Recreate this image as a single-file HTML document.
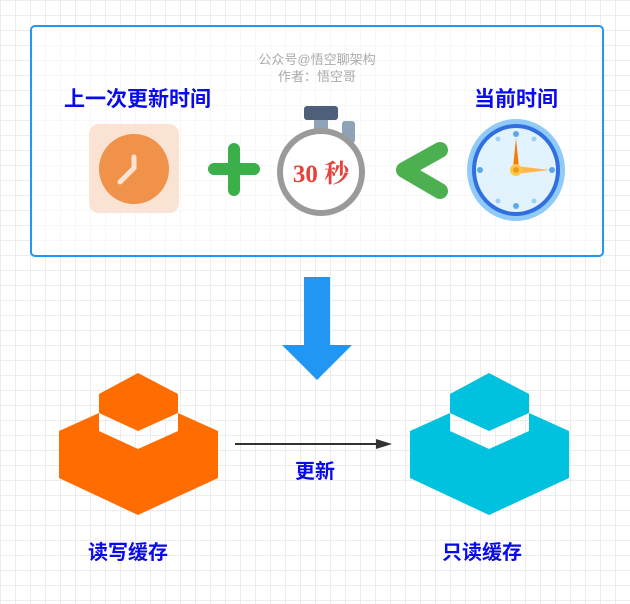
<!DOCTYPE html>
<html><head><meta charset="utf-8"><style>
html,body{margin:0;padding:0}
body{width:630px;height:604px;position:relative;overflow:hidden;background:#fff;
background-image:linear-gradient(#ececec 1px,transparent 1px),linear-gradient(90deg,#ececec 1px,transparent 1px);
background-size:15px 15px;font-family:"Liberation Sans","Noto Sans CJK SC",sans-serif}
.t{position:absolute;font-weight:bold;color:#0a0aee;font-size:21px;white-space:nowrap;line-height:24px}
</style></head><body>
<svg width="630" height="604" style="position:absolute;left:0;top:0">
<rect x="31" y="26" width="572" height="230" rx="4" fill="#fff" fill-opacity="0.6" stroke="#2196f3" stroke-width="2"/>
<text x="317" y="64" font-size="13" fill="#aaa" text-anchor="middle" font-family="Liberation Sans,Noto Sans CJK SC,sans-serif">公众号@悟空聊架构</text>
<text x="317" y="81" font-size="13" fill="#aaa" text-anchor="middle" font-family="Liberation Sans,Noto Sans CJK SC,sans-serif">作者：悟空哥</text>
<rect x="89" y="124" width="90" height="89" rx="10" fill="#fbe3d3"/>
<ellipse cx="134" cy="169" rx="35" ry="35" fill="#f0924a"/>
<path d="M134 157 L134 168 L120 182" stroke="#fbe3d3" stroke-width="5" fill="none" stroke-linecap="round"/>
<path d="M234 149 V190 M214 169 H254" stroke="#3bb04a" stroke-width="12" stroke-linecap="round"/>
<rect x="314" y="118" width="14" height="12" fill="#8fa3b8"/>
<rect x="342" y="121" width="13" height="22" rx="3" fill="#8fa3b8"/>
<rect x="304" y="106" width="34" height="14" rx="3" fill="#4e6079"/>
<circle cx="321" cy="172" r="41" fill="#fff" stroke="#9a9a9a" stroke-width="6"/>
<text x="321" y="182" font-size="25" font-weight="bold" fill="#e8413a" text-anchor="middle" font-family="Liberation Serif,Noto Serif CJK SC,serif">30 秒</text>
<path d="M440 150 L404 170 L440 191" stroke="#4caf50" stroke-width="16" fill="none" stroke-linecap="round" stroke-linejoin="round"/>
<ellipse cx="516" cy="170" rx="49" ry="51" fill="#90caf9"/>
<ellipse cx="516" cy="170" rx="44" ry="46" fill="#2f6fe0"/>
<ellipse cx="516" cy="170" rx="40" ry="42" fill="#e3f3fd"/>
<g fill="#5aa9ec"><circle cx="516" cy="134" r="3"/><circle cx="516" cy="206" r="3"/><circle cx="480" cy="170" r="3"/><circle cx="552" cy="170" r="3"/>
<circle cx="498" cy="139" r="2.5" fill="#9fd0f5"/><circle cx="534" cy="139" r="2.5" fill="#9fd0f5"/><circle cx="498" cy="201" r="2.5" fill="#9fd0f5"/><circle cx="534" cy="201" r="2.5" fill="#9fd0f5"/></g>
<path d="M513 168 L516 138 L519 168 Z" fill="#f57c00"/>
<path d="M516 166 L550 170 L516 174 Z" fill="#ffb74d"/>
<circle cx="516" cy="170" r="6" fill="#ffc74d"/><circle cx="516" cy="170" r="3" fill="#f39c12"/>
<path d="M304 277 H330 V345 H352 L317 380 L282 345 H304 Z" fill="#2196f3"/>
<g fill="#ff6d00">
<path d="M138 373 L178 394 L178 413 L138 431 L99 413 L99 394 Z"/>
<path d="M59 431 L99 413 L99 431 L138 449 L178 431 L178 413 L218 431 L218 478 L138 515 L59 478 Z"/>
</g>
<g fill="#00c1de" transform="translate(351,0)">
<path d="M138 373 L178 394 L178 413 L138 431 L99 413 L99 394 Z"/>
<path d="M59 431 L99 413 L99 431 L138 449 L178 431 L178 413 L218 431 L218 478 L138 515 L59 478 Z"/>
</g>
<line x1="235" y1="444" x2="378" y2="444" stroke="#333" stroke-width="2"/>
<path d="M392 444 L376 439 L376 449 Z" fill="#333"/>
</svg>
<div class="t" style="left:64px;top:88px">上一次更新时间</div>
<div class="t" style="left:474px;top:88px">当前时间</div>
<div class="t" style="left:295px;top:460px;font-size:20px">更新</div>
<div class="t" style="left:88px;top:541px;font-size:20px">读写缓存</div>
<div class="t" style="left:442px;top:541px;font-size:20px">只读缓存</div>
</body></html>
